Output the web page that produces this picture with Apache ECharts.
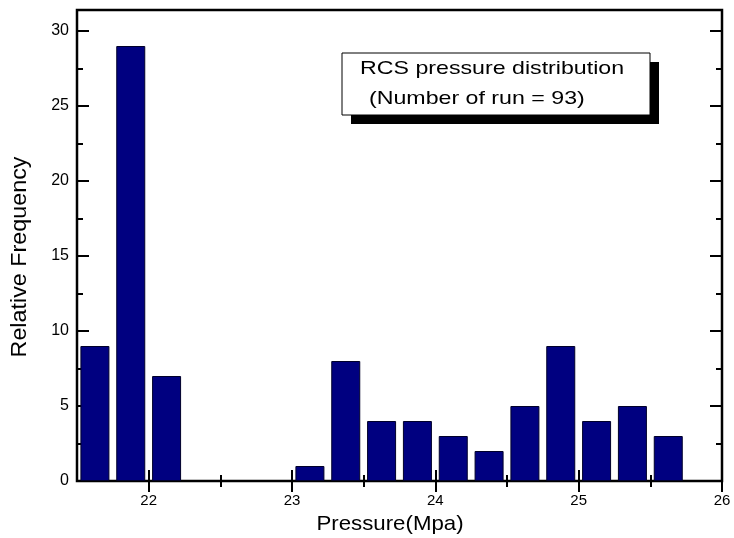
<!DOCTYPE html>
<html>
<head>
<meta charset="utf-8">
<script src="https://cdn.jsdelivr.net/npm/echarts@6/dist/echarts.min.js"></script>
<style>html,body{margin:0;padding:0;background:#fff}#c{width:734px;height:538px}</style>
</head>
<body>
<div id="c"></div>
<script>
// Data
const binCenters = [21.625, 21.875, 22.125, 23.125, 23.375, 23.625, 23.875, 24.125, 24.375, 24.625, 24.875, 25.125, 25.375, 25.625];
const frequencies = [9, 29, 7, 1, 8, 4, 4, 3, 2, 5, 9, 4, 5, 3];
const xMajorTicks = [22, 23, 24, 25, 26];
const xMinorTicks = [22.5, 23.5, 24.5, 25.5];
const yMajorTicks = [0, 5, 10, 15, 20, 25, 30];
const yMinorTicks = [2.5, 7.5, 12.5, 17.5, 22.5, 27.5];
const xTitle = 'Pressure(Mpa)';
const yTitle = 'Relative Frequency';
const boxLines = ['RCS pressure distribution', '(Number of run = 93)'];

const FONT = 'Liberation Sans, Arial, sans-serif';
const X_MIN = 21.5, X_MAX = 26, Y_MIN = 0, Y_MAX = 31.4;

function xAxisDef(pos, ticks, len, labels) {
  return {
    type: 'value', position: pos, min: X_MIN, max: X_MAX,
    axisLine: { show: false },
    splitLine: { show: false },
    axisTick: { show: true, inside: true, length: len, customValues: ticks, lineStyle: { color: '#000', width: 2 } },
    axisLabel: labels ? { show: true, customValues: labels, color: '#000', fontSize: 15, fontFamily: FONT, margin: 12 } : { show: false }
  };
}
function yAxisDef(pos, ticks, len, labels) {
  return {
    type: 'value', position: pos, min: Y_MIN, max: Y_MAX,
    axisLine: { show: false },
    splitLine: { show: false },
    axisTick: { show: true, inside: true, length: len, customValues: ticks, lineStyle: { color: '#000', width: 2 } },
    axisLabel: labels ? { show: true, customValues: labels, color: '#000', fontSize: 16, fontFamily: FONT, margin: 8 } : { show: false }
  };
}

const chart = echarts.init(document.getElementById('c'), null, { renderer: 'canvas' });
chart.setOption({
  animation: false,
  backgroundColor: '#fff',
  grid: { left: 77, right: 12, top: 10, bottom: 57, show: true, borderColor: '#000', borderWidth: 2.5, backgroundColor: 'transparent' },
  xAxis: [
    xAxisDef('bottom', xMajorTicks, 11, xMajorTicks),
    xAxisDef('bottom', xMinorTicks, 6, null),
    xAxisDef('top', xMajorTicks, 11, null),
    xAxisDef('top', xMinorTicks, 6, null)
  ],
  yAxis: [
    yAxisDef('left', yMajorTicks, 12, yMajorTicks),
    yAxisDef('left', yMinorTicks, 6, null),
    yAxisDef('right', yMajorTicks, 12, null),
    yAxisDef('right', yMinorTicks, 6, null)
  ],
  series: [{
    type: 'bar',
    xAxisIndex: 0, yAxisIndex: 0,
    barWidth: 29,
    data: binCenters.map((c, i) => [c, frequencies[i]]),
    itemStyle: { color: '#000080', borderColor: '#00002a', borderWidth: 1 },
    z: 1
  }],
  graphic: [
    { type: 'text', x: 390, y: 524, scaleX: 1.06, z: 12,
      style: { text: xTitle, fontSize: 21, fontFamily: FONT, fill: '#000', align: 'center', verticalAlign: 'middle' } },
    { type: 'text', x: 20, y: 257, rotation: Math.PI / 2, scaleX: 1.06, z: 12,
      style: { text: yTitle, fontSize: 22, fontFamily: FONT, fill: '#000', align: 'center', verticalAlign: 'middle' } },
    { type: 'rect', shape: { x: 351, y: 62, width: 308, height: 62 }, style: { fill: '#000' }, z: 10 },
    { type: 'rect', shape: { x: 342, y: 53, width: 308, height: 62 }, style: { fill: '#fff', stroke: '#000', lineWidth: 1 }, z: 11 },
    { type: 'text', x: 360, y: 69, scaleX: 1.22, z: 12,
      style: { text: boxLines[0], fontSize: 19, fontFamily: FONT, fill: '#000', align: 'left', verticalAlign: 'middle' } },
    { type: 'text', x: 369, y: 99, scaleX: 1.22, z: 12,
      style: { text: boxLines[1], fontSize: 19, fontFamily: FONT, fill: '#000', align: 'left', verticalAlign: 'middle' } }
  ]
});
</script>
</body>
</html>
